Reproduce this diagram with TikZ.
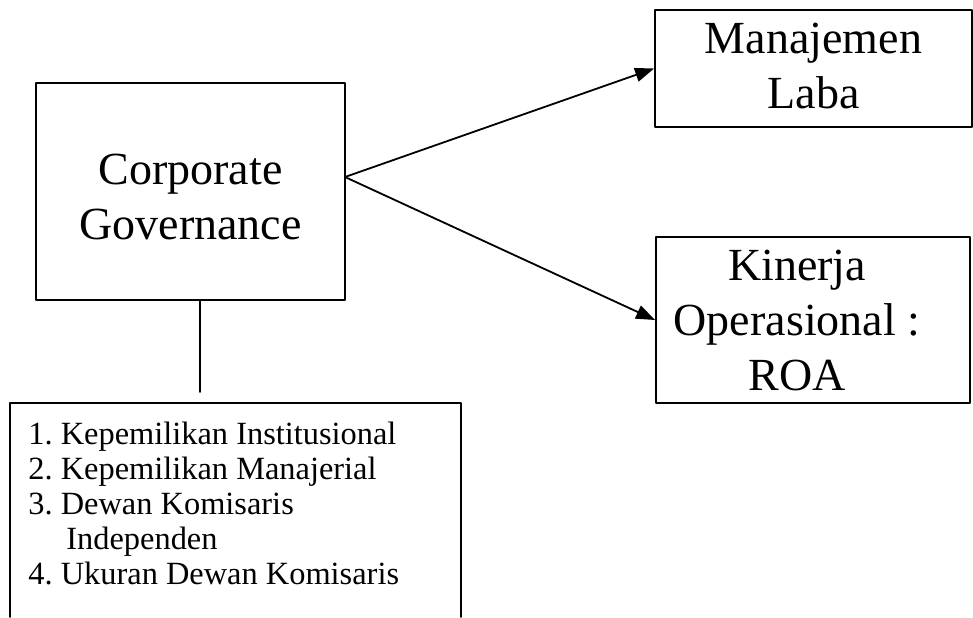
\documentclass[tikz,border=0pt]{standalone}
\usepackage{fontspec}
\setmainfont{Liberation Serif}
\usetikzlibrary{arrows.meta}
\frenchspacing

\begin{document}
\begin{tikzpicture}[x=0.5pt,y=-0.5pt,>={Triangle[length=9.5pt,width=7pt]},line cap=round,line join=round,
  box/.style={draw,line width=0.9pt,inner sep=0pt},
  bigtxt/.style={align=center,inner sep=0pt,font=\fontsize{23}{27.5}\selectfont},
  listtxt/.style={align=left,inner sep=0pt,font=\fontsize{16.2}{17.5}\selectfont},
  link/.style={->,line width=0.9pt}]
\useasboundingbox (0,0) rectangle (973,617);
\coordinate (cgc) at (190.5,191.5);
\coordinate (mlc) at (813.5,68.5);
\coordinate (kinc) at (813,320);
\coordinate (src) at (345,177);
\coordinate (gap) at (200,392);
\node[box,minimum width=154.5pt,minimum height=108.5pt] (cg) at (cgc) {};
\node[box,minimum width=158.5pt,minimum height=58.5pt] (ml) at (mlc) {};
\node[box,minimum width=157pt,minimum height=83pt] (kin) at (kinc) {};
\node[bigtxt] (cgtxt) at (190.5,197) {Corporate\\Governance};
\node[bigtxt] (mltxt) at (813.5,66) {Manajemen\\Laba};
\node[bigtxt] (kintxt) at (797,320) {Kinerja\\Operasional :\\ROA};
\draw[link] (src) -- (ml.west);
\draw[link] (src) -- (kin.west);
\draw[line width=0.9pt] (cg.south -| gap) -- (gap);
\draw[line width=0.9pt] (10,617) |- (461,403) -- (461,617);
\node[listtxt,anchor=north west] (ind) at (28,422) {1. Kepemilikan Institusional\\2. Kepemilikan Manajerial\\3. Dewan Komisaris\\\hspace*{19pt}Independen\\4. Ukuran Dewan Komisaris};
\end{tikzpicture}
\end{document}
